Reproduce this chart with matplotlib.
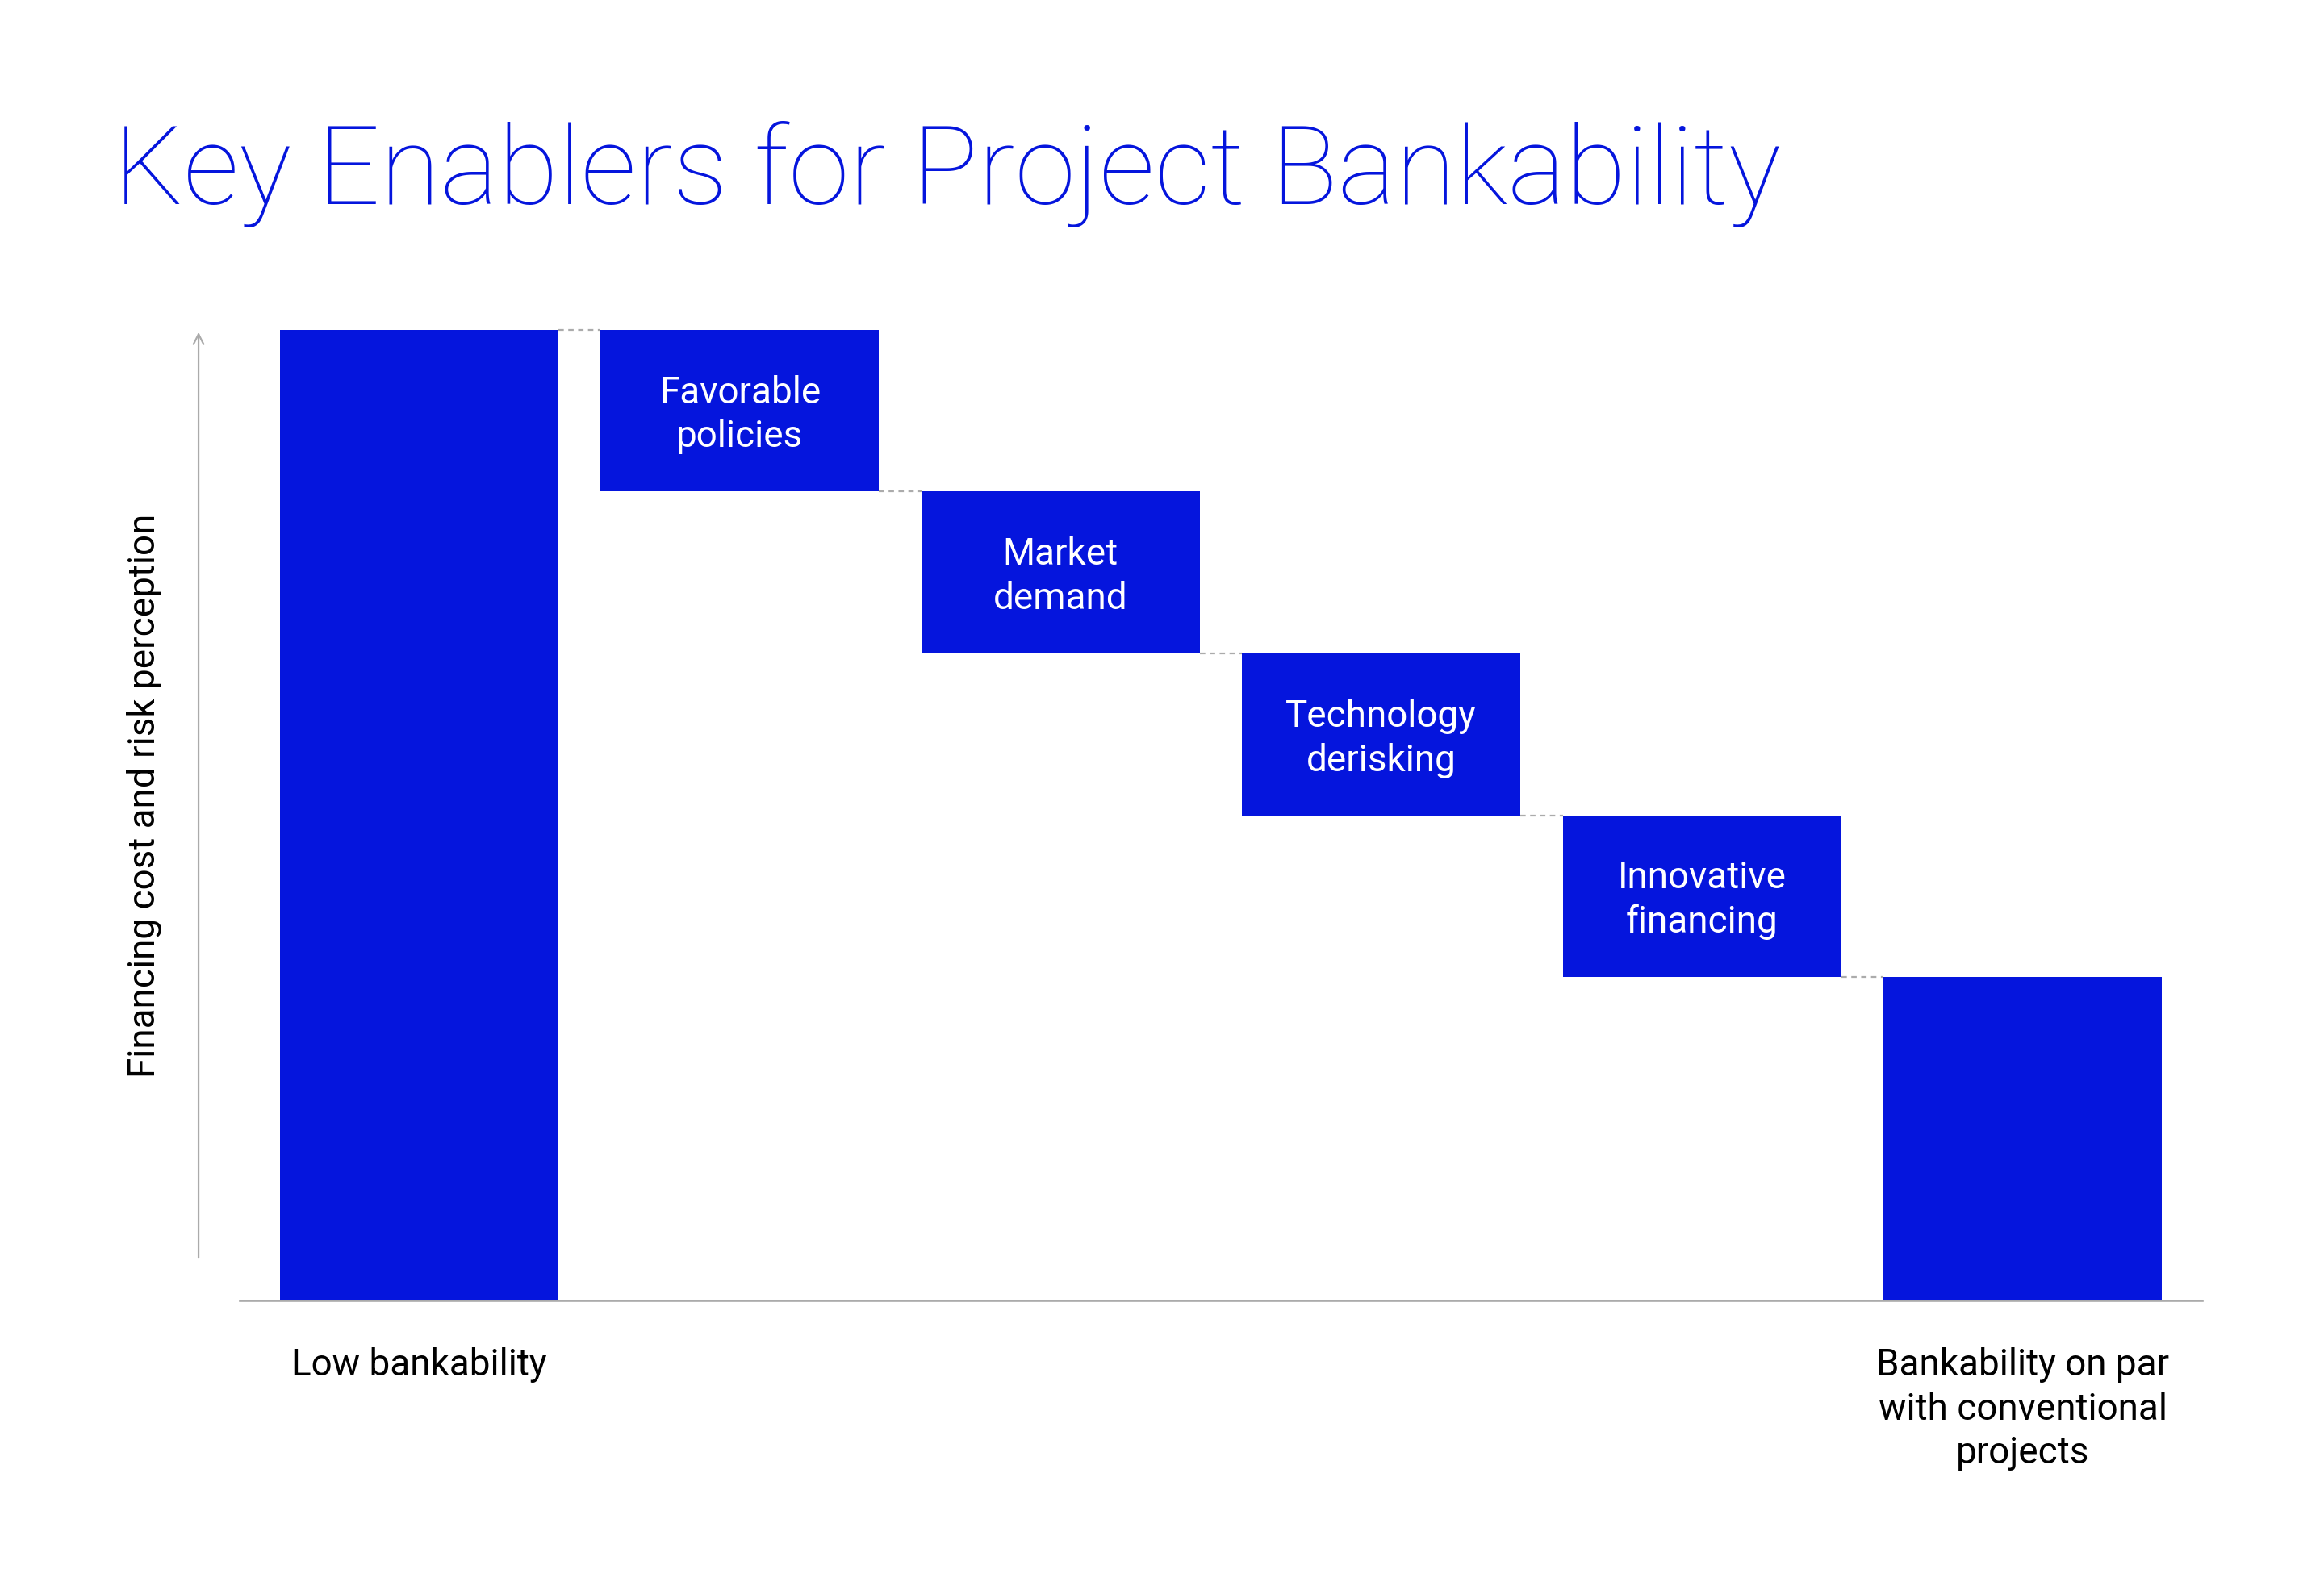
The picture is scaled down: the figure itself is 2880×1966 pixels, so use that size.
import matplotlib.pyplot as plt
import numpy as np

# waterfall data (arbitrary units)
start_value = 60
steps = [-10, -10, -10, -10]
step_labels = ['Favorable\npolicies', 'Market\ndemand', 'Technology\nderisking', 'Innovative\nfinancing']
first_label = 'Low bankability'
last_label = 'Bankability on par\nwith conventional\nprojects'

blue = '#0515DD'
grey = '#ABABAB'

fig = plt.figure(figsize=(28.8, 19.66), dpi=100)
ax = fig.add_axes([0.1031, 0.1800, 0.8445, 0.6120])

n = len(steps) + 2
x = np.arange(n)
w = 0.868

levels = [start_value]
for s in steps:
    levels.append(levels[-1] + s)
end_value = levels[-1]

bottoms = [0] + [levels[i + 1] for i in range(len(steps))] + [0]
heights = [start_value] + [-s for s in steps] + [end_value]

ax.bar(x, heights, bottom=bottoms, width=w, color=blue, zorder=2)

# dashed connectors between bars
conn = [start_value] + levels[1:]
for i in range(n - 1):
    ax.plot([x[i] + w / 2, x[i + 1] - w / 2], [conn[i], conn[i]],
            color=grey, lw=1.6, ls=(0, (3, 2.5)), zorder=1, clip_on=False)

# labels inside the step bars
for i, lab in enumerate(step_labels):
    ax.text(x[i + 1], bottoms[i + 1] + heights[i + 1] / 2 - 0.25, lab,
            ha='center', va='center', color='white', fontsize=33,
            family='Roboto', linespacing=1.3)

# labels below the first and last bars
ax.text(x[0], -2.9, first_label, ha='center', va='top', fontsize=33,
        family='Roboto', color='black', linespacing=1.3)
ax.text(x[-1], -2.9, last_label, ha='center', va='top', fontsize=33,
        family='Roboto', color='black', linespacing=1.3)

ax.set_xlim(-0.56, n - 1 + 0.56)
ax.set_ylim(0, start_value)

for sp in ['top', 'right', 'left']:
    ax.spines[sp].set_visible(False)
ax.spines['bottom'].set_color(grey)
ax.spines['bottom'].set_linewidth(1.9)
ax.spines['bottom'].set_zorder(3)
ax.set_xticks([])
ax.set_yticks([])

# vertical arrow on the left
ax.annotate('', xy=(-0.688, start_value), xytext=(-0.688, 2.5),
            arrowprops=dict(arrowstyle='->,head_length=0.9,head_width=0.45',
                            color=grey, lw=1.6),
            annotation_clip=False)

fig.text(0.062, 0.4985, 'Financing cost and risk perception', rotation=90,
         ha='center', va='center', fontsize=33, family='Roboto',
         color='black')

fig.text(0.049, 0.8715, 'Key Enablers for Project Bankability', ha='left',
         va='baseline', fontsize=98, family='Roboto', fontweight='light',
         color=blue)

fig.savefig('out.png', dpi=100)
